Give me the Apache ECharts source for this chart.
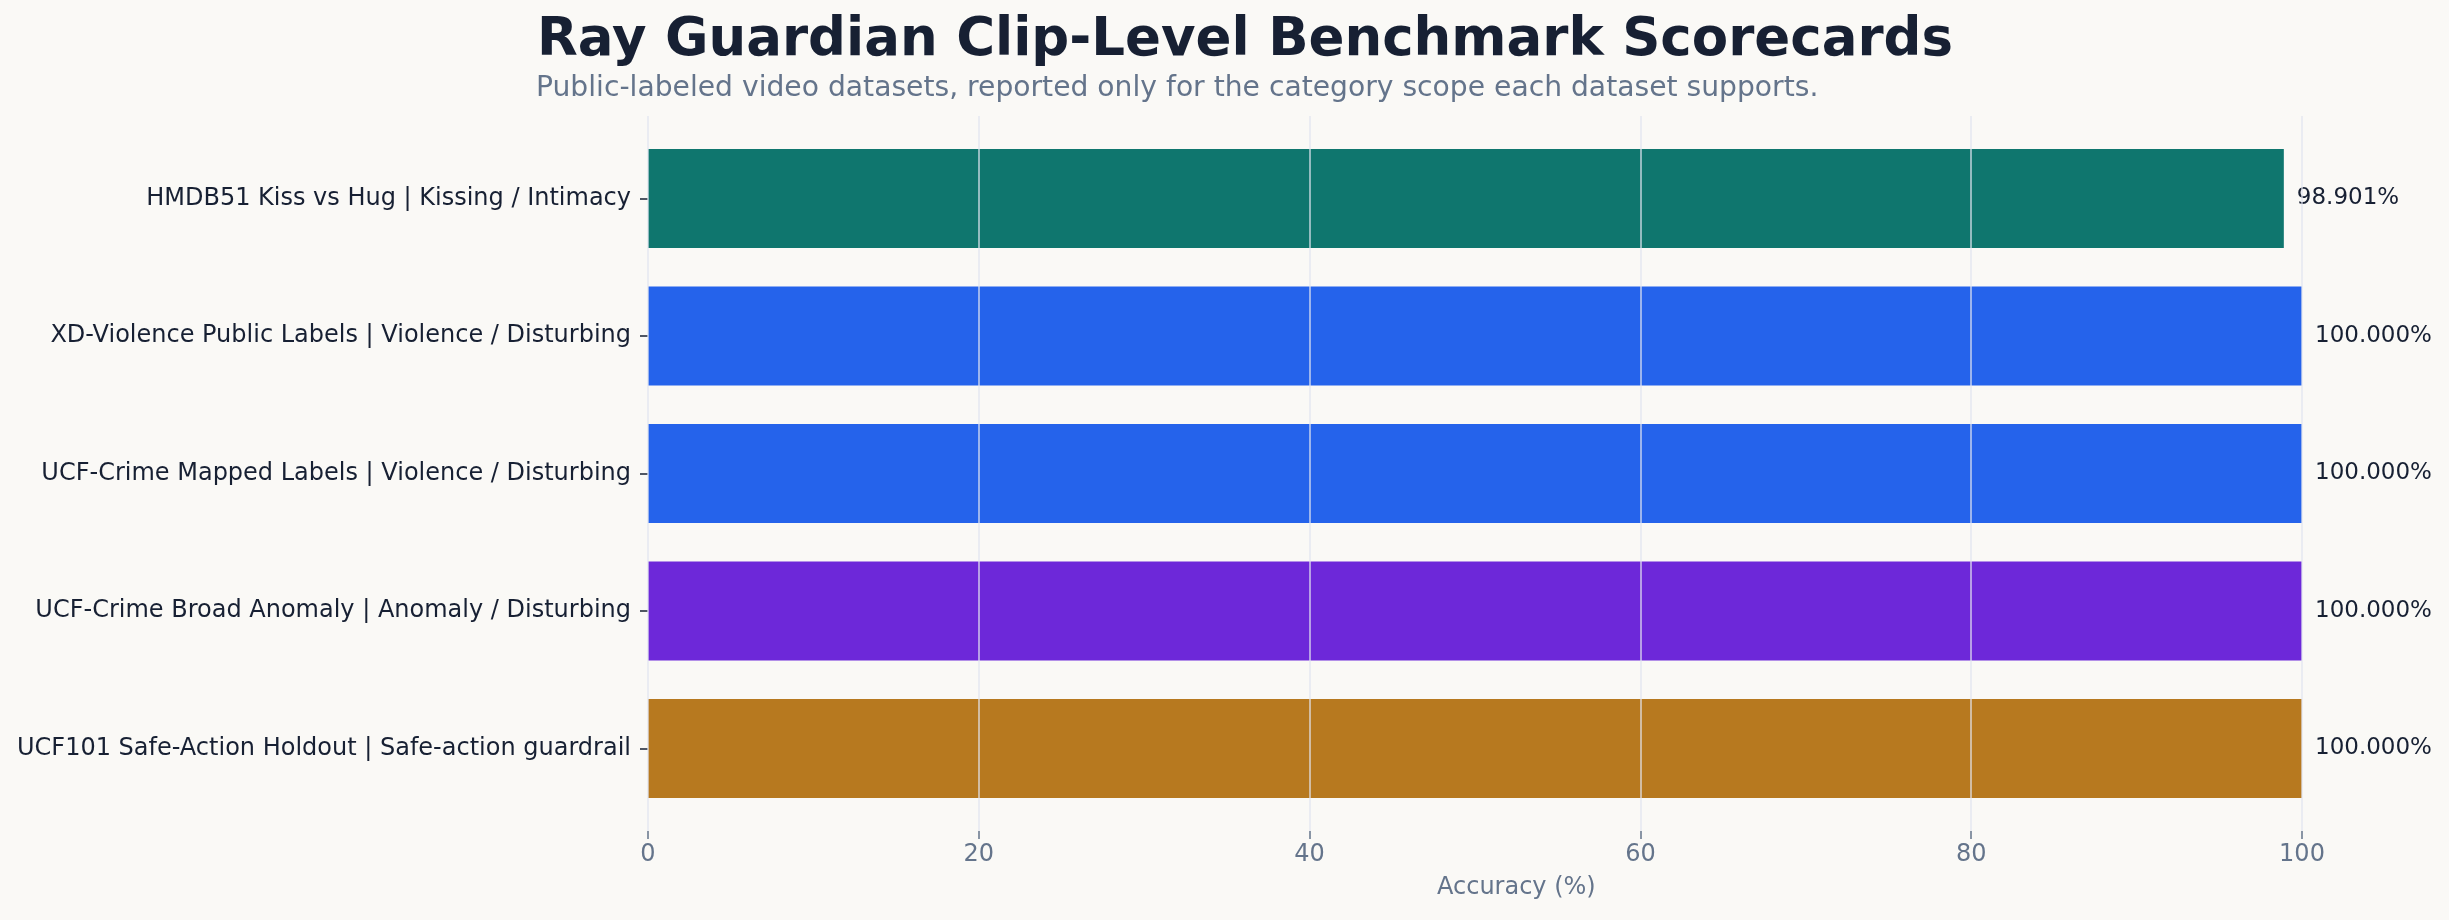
<!DOCTYPE html>
<html>
<head>
<meta charset="utf-8">
<script src="https://cdn.jsdelivr.net/npm/echarts@6/dist/echarts.min.js"></script>
<style>
  html, body { margin: 0; padding: 0; background: #faf9f6; }
  #main { width: 2449px; height: 920px; }
</style>
</head>
<body>
<div id="main"></div>
<script>
// benchmark rows, top to bottom
var categories = [
    'HMDB51 Kiss vs Hug | Kissing / Intimacy',
    'XD-Violence Public Labels | Violence / Disturbing',
    'UCF-Crime Mapped Labels | Violence / Disturbing',
    'UCF-Crime Broad Anomaly | Anomaly / Disturbing',
    'UCF101 Safe-Action Holdout | Safe-action guardrail'
];
var accuracy = [98.901, 100, 100, 100, 100];
var barColors = ['#0f766e', '#2563eb', '#2563eb', '#6d28d9', '#b7791f'];
var xMin = 0, xMax = 100, xStep = 20;

var dark = '#172033';
var slate = '#64748b';
var font = 'DejaVu Sans';

var chart = echarts.init(document.getElementById('main'));

chart.setOption({
    backgroundColor: '#faf9f6',
    textStyle: { fontFamily: font },
    title: [{
        text: 'Ray Guardian Clip-Level Benchmark Scorecards',
        left: 532, top: 10,
        textStyle: { fontSize: 53, fontWeight: 'bold', color: dark, fontFamily: font }
    }, {
        text: 'Public-labeled video datasets, reported only for the category scope each dataset supports.',
        left: 531, top: 70,
        textStyle: { fontSize: 28.2, fontWeight: 'normal', color: slate, fontFamily: font }
    }],
    // x axis title sits a little right of the axis centre in the original
    graphic: [{
        type: 'text',
        left: 1437, top: 876,
        style: { text: 'Accuracy (%)', fontSize: 24, fill: slate, fontFamily: font }
    }],
    // grid 0 carries the x axis + gridlines, grid 1 carries the bars
    grid: [
        { left: 648, right: 147, top: 116, height: 715 },
        { left: 648, right: 147, top: 129.75, height: 687.5 }
    ],
    xAxis: [{
        gridIndex: 0,
        type: 'value',
        min: xMin, max: xMax, interval: xStep,
        z: 5,
        axisLine: { show: false },
        axisTick: { show: true, length: 8, lineStyle: { color: slate, width: 1.5 } },
        axisLabel: { fontSize: 24, color: slate, margin: 12 },
        splitLine: { show: true, lineStyle: { color: 'rgba(224,228,238,0.85)', width: 1.5 } }
    }, {
        gridIndex: 1,
        type: 'value',
        min: xMin, max: xMax,
        show: false
    }],
    yAxis: [{
        gridIndex: 0,
        type: 'value',
        show: false
    }, {
        gridIndex: 1,
        type: 'category',
        inverse: true,
        data: categories,
        axisLine: { show: false },
        axisTick: { show: true, alignWithLabel: true, length: 8, lineStyle: { color: dark, width: 1.5 } },
        axisLabel: { fontSize: 24, color: dark, margin: 17 },
        splitLine: { show: false }
    }],
    series: [{
        type: 'bar',
        xAxisIndex: 1,
        yAxisIndex: 1,
        barWidth: 99,
        data: accuracy.map(function (v, i) {
            return { value: v, itemStyle: { color: barColors[i] } };
        }),
        label: {
            show: true,
            position: 'right',
            distance: 13,
            fontSize: 23,
            color: dark,
            formatter: function (p) { return p.value.toFixed(3) + '%'; }
        },
        animation: false
    }]
});
</script>
</body>
</html>
